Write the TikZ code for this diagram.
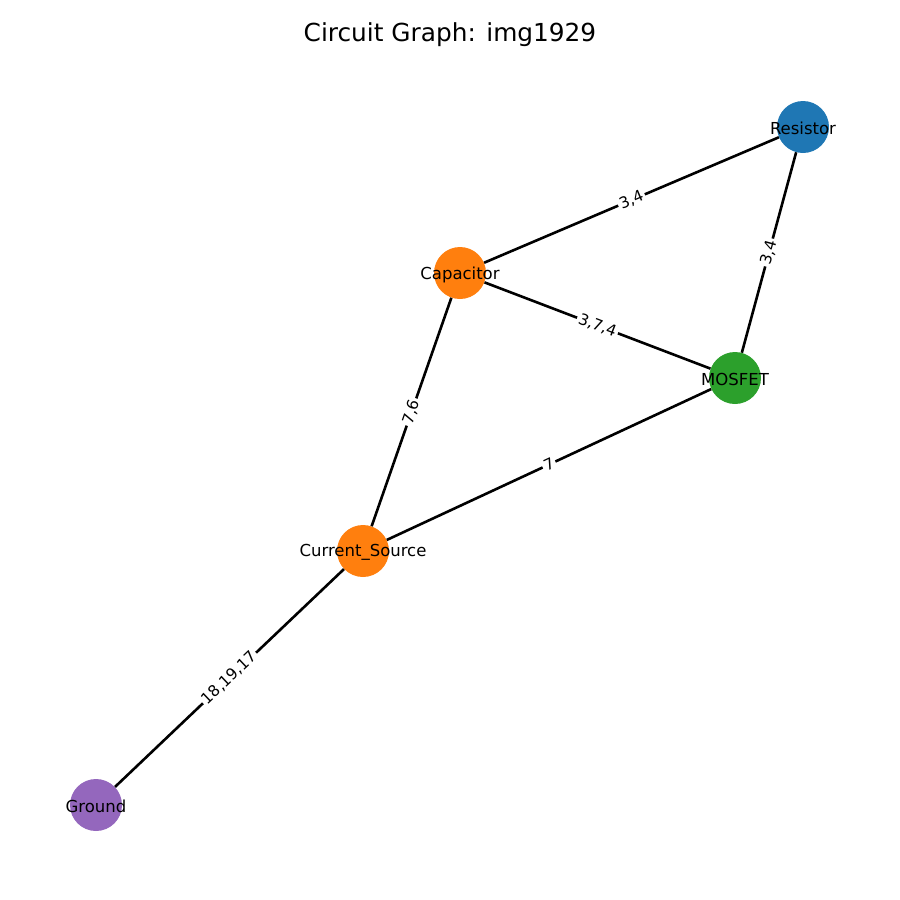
\documentclass[tikz,border=0pt]{standalone}
\usepackage{fontspec}
\setmainfont{DejaVu Sans}
\definecolor{mblue}{HTML}{1F77B4}
\definecolor{morange}{HTML}{FF7F0E}
\definecolor{mgreen}{HTML}{2CA02C}
\definecolor{mpurple}{HTML}{9467BD}
\tikzset{
  vtx/.style={circle, draw=none, minimum size=52pt, inner sep=0pt,
    label={[font=\fontsize{16.5}{18}\selectfont, text=black, yshift=-1.5pt]center:#1}},
  edge/.style={line width=2.6pt, black},
  elab/.style={midway, sloped, fill=white, inner sep=2pt, text=black,
    font=\fontsize{15.5}{17}\selectfont}
}
\begin{document}
\begin{tikzpicture}[x=1pt, y=-1pt]
\useasboundingbox (0,0) rectangle (900,900);
\node[font=\fontsize{24.8}{28}\selectfont] (title) at (450,35) {Circuit Graph: img1929};
\node[vtx=Resistor, fill=mblue] (R) at (803,127) {};
\node[vtx=Capacitor, fill=morange] (C) at (460,273) {};
\node[vtx=MOSFET, fill=mgreen] (M) at (735,378) {};
\node[vtx=Current\_Source, fill=morange] (S) at (363,551) {};
\node[vtx=Ground, fill=mpurple] (G) at (96,805) {};
\draw[edge] (C) -- node[elab] {3,4} (R);
\draw[edge] (R) -- node[elab] {3,4} (M);
\draw[edge] (C) -- node[elab] {3,7,4} (M);
\draw[edge] (C) -- node[elab] {7,6} (S);
\draw[edge] (S) -- node[elab] {7} (M);
\draw[edge] (S) -- node[elab] {18,19,17} (G);
\end{tikzpicture}
\end{document}
